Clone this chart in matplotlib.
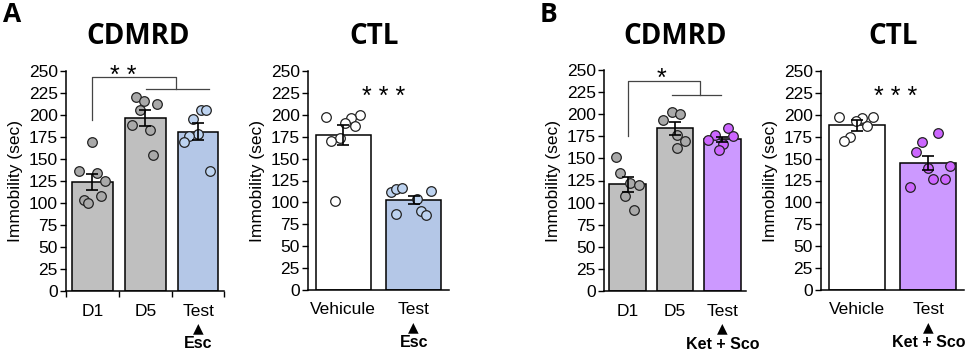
import numpy as np
import matplotlib
matplotlib.use("Agg")
import matplotlib.pyplot as plt
from matplotlib.transforms import blended_transform_factory

plt.rcParams.update({"font.family": ["Liberation Sans", "DejaVu Sans"], "font.size": 12.5,
                     "axes.spines.top": False, "axes.spines.right": False})

GRAY, BLUE, PURPLE, WHITE = "#BFBFBF", "#B4C7E7", "#CC99FF", "#FFFFFF"
PT = {GRAY: "#A9A9A9", BLUE: "#BDD3F0", PURPLE: "#CC66FF", WHITE: "#FFFFFF"}

# ---- data ----
a1_cats = ["D1", "D5", "Test"]
a1_mean = [124, 197, 181]
a1_sem = [9, 9, 9.5]
a1_pts = [[169, 136, 134, 125, 108, 103, 100],
          [221, 216, 212, 206, 189, 183, 154],
          [206, 206, 195, 178, 176, 169, 136]]
a1_jit = [[0.0, -0.25, 0.08, 0.24, 0.16, -0.16, -0.08],
          [-0.18, -0.03, 0.23, -0.09, -0.25, 0.09, 0.14],
          [0.06, 0.15, -0.10, 0.0, -0.17, -0.26, 0.23]]

a2_cats = ["Vehicule", "Test"]
a2_mean = [177, 103]
a2_sem = [11, 4.5]
a2_pts = [[198, 200, 196, 191, 187, 174, 170, 102],
          [112, 115, 116, 113, 104, 90, 87, 86]]
a2_jit = [[-0.25, 0.24, 0.11, 0.03, 0.17, -0.05, -0.18, -0.11],
          [-0.32, -0.25, -0.17, 0.24, 0.04, 0.10, -0.25, 0.17]]

b1_cats = ["D1", "D5", "Test"]
b1_mean = [120.5, 184, 171.5]
b1_sem = [8.5, 7, 3]
b1_pts = [[152, 134, 122, 120, 107, 92],
          [203, 200, 194, 177, 170, 162],
          [184, 176, 175, 171, 166, 159]]
b1_jit = [[-0.25, -0.16, 0.04, 0.23, -0.05, 0.14],
          [-0.06, 0.11, -0.26, 0.04, 0.21, 0.04],
          [0.12, -0.16, 0.23, -0.30, 0.02, -0.07]]

b2_cats = ["Vehicle", "Test"]
b2_mean = [188, 145]
b2_sem = [6, 8.5]
b2_pts = [[198, 198, 196, 193, 187, 175, 170],
          [179, 169, 158, 142, 139, 127, 127, 118]]
b2_jit = [[-0.25, 0.23, 0.07, -0.01, 0.15, -0.09, -0.18],
          [0.14, -0.09, -0.17, 0.31, -0.01, 0.07, 0.23, -0.25]]

W, H = 969, 352
fig = plt.figure(figsize=(W / 100, H / 100), dpi=100)


def axes_px(x0, x1, ytop, ybot):
    return fig.add_axes([x0 / W, (H - ybot) / H, (x1 - x0) / W, (ybot - ytop) / H])


def panel(ax, cats, means, sems, pts, jit, colors, drug, bw, minor=False):
    x = np.arange(len(cats))
    ax.bar(x, means, width=bw, color=colors, edgecolor="black", linewidth=1.1, zorder=2)
    for i in x:
        ax.scatter(i + np.array(jit[i]), pts[i], s=48, color=PT[colors[i]],
                   edgecolor="#222222", linewidth=0.9, zorder=3)
    ax.errorbar(x, means, yerr=sems, fmt="none", ecolor="black", elinewidth=1.2,
                capsize=4.5, capthick=1.2, zorder=4)
    ax.set_xlim(-0.5, len(cats) - 0.5)
    ax.set_ylim(0, 250)
    ax.set_yticks(range(0, 251, 25))
    ax.set_xticks(x, cats)
    ax.tick_params(axis="x", length=0, pad=9)
    ax.tick_params(axis="y", length=4, width=1, pad=2)
    if minor:
        ax.set_xticks(np.arange(-0.5, len(cats), 1), minor=True)
        ax.tick_params(axis="x", which="minor", length=4, width=1)
    for s in ("left", "bottom"):
        ax.spines[s].set_linewidth(1.1)
    ax.set_ylabel("Immobility (sec)", labelpad=4)
    tr = blended_transform_factory(ax.transData, ax.transAxes)
    ax.text(x[-1], -0.17, "▲", transform=tr, ha="center", va="center", fontsize=10,
            family="DejaVu Sans")
    ax.text(x[-1], -0.24, drug, transform=tr, ha="center", va="center",
            fontsize=11.5, fontweight="bold")


def bracket(ax, x0, y0, ytop, xmid, ydrop, x1a, x1b):
    kw = dict(color="#444444", linewidth=0.9, clip_on=False)
    ax.plot([x0, x0, xmid, xmid], [y0, ytop, ytop, ydrop], **kw)
    ax.plot([x1a, x1b], [ydrop, ydrop], **kw)


tfont = dict(family=["Open Sans", "DejaVu Sans"], fontweight="bold")

# A - CDMRD
ax = axes_px(66, 224.5, 71, 291)
panel(ax, a1_cats, a1_mean, a1_sem, a1_pts, a1_jit, [GRAY, GRAY, BLUE], "Esc", 0.77, minor=True)
bracket(ax, 0, 194, 243, 1.58, 230, 1.01, 2.2)
ax.text(0.58, 236, "* *", ha="center", va="baseline", fontsize=18)
fig.text(138 / W, 1 - 36 / H, "CDMRD", ha="center", va="center", fontsize=20, **tfont)

# A - CTL
ax = axes_px(308, 449, 71, 290)
panel(ax, a2_cats, a2_mean, a2_sem, a2_pts, a2_jit, [WHITE, BLUE], "Esc", 0.78)
ax.text(0.57, 212, "* * *", ha="center", va="baseline", fontsize=18)
fig.text(374 / W, 1 - 36 / H, "CTL", ha="center", va="center", fontsize=20, **tfont)

# B - CDMRD
ax = axes_px(604, 746, 70, 291)
panel(ax, b1_cats, b1_mean, b1_sem, b1_pts, b1_jit, [GRAY, GRAY, PURPLE], "Ket + Sco", 0.78)
bracket(ax, 0, 175, 238, 1.53, 222, 0.94, 1.98)
ax.text(0.72, 232, "*", ha="center", va="baseline", fontsize=18)
fig.text(675 / W, 1 - 36 / H, "CDMRD", ha="center", va="center", fontsize=20, **tfont)

# B - CTL
ax = axes_px(821, 964, 71, 290)
panel(ax, b2_cats, b2_mean, b2_sem, b2_pts, b2_jit, [WHITE, PURPLE], "Ket + Sco", 0.78)
ax.text(0.55, 212, "* * *", ha="center", va="baseline", fontsize=18)
fig.text(893 / W, 1 - 36 / H, "CTL", ha="center", va="center", fontsize=20, **tfont)

fig.text(12 / W, 1 - 14 / H, "A", ha="center", va="center", fontsize=19, **tfont)
fig.text(548 / W, 1 - 14 / H, "B", ha="center", va="center", fontsize=19, **tfont)

fig.savefig("out.png", dpi=100)
